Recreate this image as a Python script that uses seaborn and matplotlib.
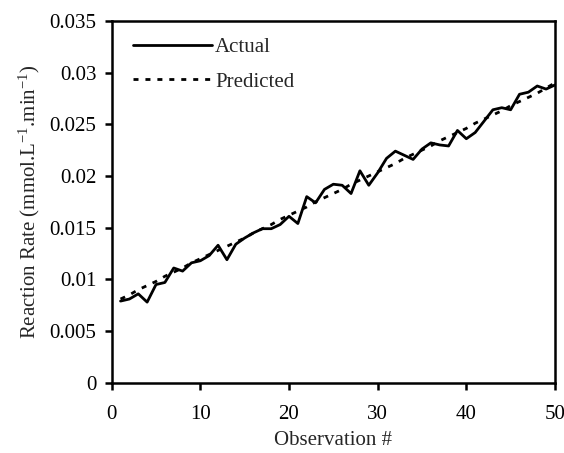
import matplotlib
matplotlib.use("Agg")
import matplotlib.pyplot as plt
import seaborn as sns
import pandas as pd

observation = list(range(1, 51))
actual = [0.0079, 0.0081, 0.0086, 0.0078, 0.0095, 0.0097, 0.0111, 0.0108, 0.0116, 0.0118,
          0.0123, 0.0133, 0.0119, 0.0134, 0.0140, 0.0145, 0.0149, 0.0149, 0.0153, 0.0161,
          0.0154, 0.0180, 0.0174, 0.0187, 0.0192, 0.0191, 0.0183, 0.0205, 0.0191, 0.0203,
          0.0217, 0.0224, 0.0220, 0.0216, 0.0226, 0.0232, 0.0230, 0.0229, 0.0244, 0.0236,
          0.0242, 0.0253, 0.0264, 0.0266, 0.0264, 0.0279, 0.0281, 0.0287, 0.0284, 0.0288]
predicted = [0.0081, 0.0085, 0.0090, 0.0094, 0.0098, 0.0103, 0.0107, 0.0111, 0.0116, 0.0120,
             0.0124, 0.0128, 0.0132, 0.0136, 0.0140, 0.0145, 0.0149, 0.0153, 0.0158, 0.0162,
             0.0166, 0.0170, 0.0175, 0.0179, 0.0183, 0.0187, 0.0192, 0.0196, 0.0200, 0.0204,
             0.0208, 0.0212, 0.0217, 0.0221, 0.0225, 0.0229, 0.0234, 0.0238, 0.0242, 0.0246,
             0.0251, 0.0255, 0.0259, 0.0263, 0.0268, 0.0272, 0.0276, 0.0280, 0.0285, 0.0290]
x_ticks = [0, 10, 20, 30, 40, 50]
y_ticks = [0, 0.005, 0.01, 0.015, 0.02, 0.025, 0.03, 0.035]
y_tick_labels = ["0", "0.005", "0.01", "0.015", "0.02", "0.025", "0.03", "0.035"]

sns.set_style("ticks")
plt.rcParams["font.family"] = ["Liberation Serif", "DejaVu Serif"]
plt.rcParams["mathtext.fontset"] = "custom"
plt.rcParams["mathtext.rm"] = "Liberation Serif"
plt.rcParams["mathtext.it"] = "Liberation Serif:italic"

FS = 15
df = pd.DataFrame({"obs": observation, "Actual": actual, "Predicted": predicted})

fig = plt.figure(figsize=(5.64, 4.53), dpi=100)
ax = fig.add_axes([0.198, 0.155, 0.786, 0.799])

sns.lineplot(data=df, x="obs", y="Actual", ax=ax, color="black", linewidth=2.0, label="Actual")
sns.lineplot(data=df, x="obs", y="Predicted", ax=ax, color="black", linewidth=2.0,
             linestyle=(0, (1.8, 2.5)), label="Predicted")

ax.set_xlim(0, 50)
ax.set_ylim(0, 0.035)
ax.set_xticks(x_ticks)
ax.set_xticklabels([str(t) for t in x_ticks])
ax.set_yticks(y_ticks)
ax.set_yticklabels(y_tick_labels)
ax.tick_params(axis="both", direction="out", length=5, width=1.8, labelsize=FS, colors="black")
ax.tick_params(axis="x", pad=11)
ax.tick_params(axis="y", pad=6)
for sp in ax.spines.values():
    sp.set_visible(True)
    sp.set_linewidth(1.8)
    sp.set_color("black")

ax.set_xlabel("Observation #", fontsize=FS, labelpad=5)
ax.set_ylabel(r"Reaction Rate (mmol.L$^{\mathrm{-1}}$.min$^{\mathrm{-1}}$)", fontsize=FS, labelpad=5)

leg = ax.legend(loc="upper left", frameon=False, fontsize=FS, handlelength=3.8,
                handletextpad=0.15, labelspacing=0.7, borderaxespad=0.0, borderpad=0.0,
                bbox_to_anchor=(0.048, 0.953))

fig.savefig("out.png", dpi=100)
